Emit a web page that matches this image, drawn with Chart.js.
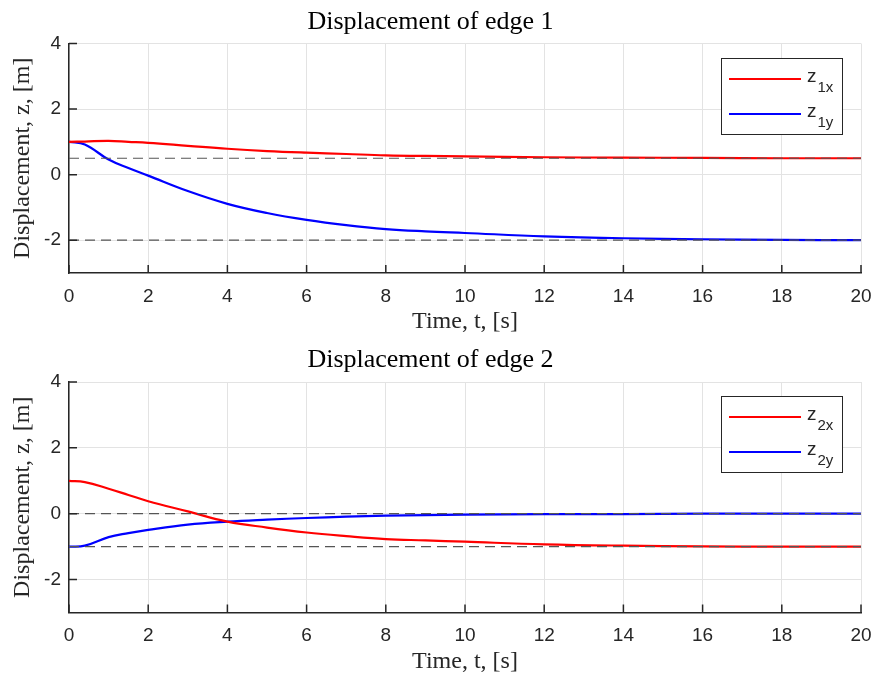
<!DOCTYPE html>
<html>
<head>
<meta charset="utf-8">
<script src="https://cdn.jsdelivr.net/npm/chart.js@4.4.1/dist/chart.umd.min.js"></script>
<style>
    body { margin: 0; background: #fff; }
    #wrap { position: relative; width: 875px; height: 680px; }
    .plot { position: absolute; left: 0; }
</style>
</head>
<body>
<div id="wrap">
    <canvas id="edge1Chart" class="plot" style="top:0" width="875" height="340"></canvas>
    <canvas id="edge2Chart" class="plot" style="top:340px" width="875" height="340"></canvas>
</div>
<script>
// time samples [s]
const timeS = [0, 0.4, 1, 1.5, 2, 3, 4, 5, 6, 7, 8, 9, 10, 12, 14, 16, 18, 20];

// edge 1
const z1x = [1.0, 1.01, 1.03, 1.0, 0.97, 0.88, 0.79, 0.72, 0.67, 0.63, 0.59, 0.57, 0.56, 0.53, 0.52, 0.51, 0.50, 0.50];
const z1y = [1.0, 0.92, 0.46, 0.2, -0.03, -0.5, -0.89, -1.17, -1.38, -1.54, -1.66, -1.73, -1.78, -1.88, -1.94, -1.97, -1.99, -2.0];
const edge1Targets = [0.5, -2];

// edge 2
const z2x = [1.0, 0.96, 0.76, 0.57, 0.38, 0.07, -0.24, -0.42, -0.57, -0.68, -0.77, -0.81, -0.85, -0.93, -0.97, -0.99, -1.0, -1.0];
const z2y = [-1.0, -0.97, -0.71, -0.59, -0.49, -0.33, -0.24, -0.18, -0.13, -0.09, -0.06, -0.04, -0.03, -0.015, -0.01, 0, 0, 0];
const edge2Targets = [0, -1];

const xTicks = [0, 2, 4, 6, 8, 10, 12, 14, 16, 18, 20];
const yTicks = [-2, 0, 2, 4];

Chart.defaults.font.family = '"Liberation Sans", Arial, sans-serif';

const serif = '"Liberation Serif", "Times New Roman", serif';

// matlab style tick marks pointing into the axes
const innerTicks = {
    id: 'innerTicks',
    afterDatasetsDraw(chart) {
        let ctx = chart.ctx, a = chart.chartArea, x = chart.scales.x, y = chart.scales.y;
        ctx.save();
        ctx.strokeStyle = '#262626';
        ctx.lineWidth = 1.5;
        ctx.beginPath();
        x.ticks.forEach(function (t) {
            let px = x.getPixelForValue(t.value);
            ctx.moveTo(px, a.bottom);
            ctx.lineTo(px, a.bottom - 8);
        });
        y.ticks.forEach(function (t) {
            let py = y.getPixelForValue(t.value);
            ctx.moveTo(a.left, py);
            ctx.lineTo(a.left + 8, py);
        });
        ctx.stroke();
        ctx.restore();
    }
};

// legend box with subscripts (z_{1x})
const subLegend = {
    id: 'subLegend',
    afterDraw(chart) {
        let ctx = chart.ctx, a = chart.chartArea;
        let items = chart.data.datasets.filter(d => d.inLegend);
        let w = 121, h = 76;
        let bx = Math.round(a.right - 19 - w), by = Math.round(a.top + 14);
        ctx.save();
        ctx.fillStyle = '#fff';
        ctx.fillRect(bx, by, w, h);
        ctx.strokeStyle = '#262626';
        ctx.lineWidth = 1;
        ctx.strokeRect(bx + 0.5, by + 0.5, w, h);
        items.forEach(function (d, i) {
            let ly = by + 21 + i * 35;
            ctx.strokeStyle = d.borderColor;
            ctx.lineWidth = 2.2;
            ctx.beginPath();
            ctx.moveTo(bx + 8, ly);
            ctx.lineTo(bx + 80, ly);
            ctx.stroke();
            let parts = d.label.split('_');
            ctx.fillStyle = '#262626';
            ctx.textBaseline = 'alphabetic';
            ctx.font = '19px "Liberation Sans"';
            ctx.fillText(parts[0], bx + 86, ly + 3);
            let mw = ctx.measureText(parts[0]).width;
            ctx.font = '15px "Liberation Sans"';
            ctx.fillText(parts[1], bx + 86 + mw + 1, ly + 13);
        });
        ctx.restore();
    }
};

function points(ys) {
    return timeS.map((t, k) => ({ x: t, y: ys[k] }));
}

function setChart(id, title, series, targets, box) {
    let datasets = [];

    targets.forEach(function (v) {
        datasets.push({
            data: [{ x: 0, y: v }, { x: 20, y: v }],
            borderColor: '#555',
            borderWidth: 1.2,
            borderDash: [10, 6],
            pointRadius: 0,
            order: 0
        });
    });

    series.forEach(function (s) {
        datasets.push({
            label: s.label,
            inLegend: true,
            data: points(s.values),
            borderColor: s.color,
            borderWidth: 2.2,
            pointRadius: 0,
            tension: 0.4,
            order: 1
        });
    });

    return new Chart(document.getElementById(id), {
        type: 'line',
        data: { datasets: datasets },
        plugins: [innerTicks, subLegend],
        options: {
            responsive: false,
            animation: false,
            layout: { padding: { top: 0, left: 0, right: 14, bottom: 0 } },
            plugins: {
                legend: { display: false },
                tooltip: { enabled: false },
                title: {
                    display: true,
                    text: title,
                    color: '#000',
                    font: { family: serif, size: 26, weight: 'normal' },
                    padding: { top: box.titleTop, bottom: box.plotTop - box.titleTop - 31.2 }
                }
            },
            scales: {
                x: {
                    type: 'linear',
                    min: 0,
                    max: 20,
                    afterBuildTicks: s => { s.ticks = xTicks.map(v => ({ value: v })); },
                    afterFit: s => { s.height = box.xHeight; s.paddingLeft = 0; s.paddingRight = 0; },
                    grid: { color: '#e3e3e3', drawTicks: false },
                    border: { color: '#262626', width: 1.5 },
                    ticks: { color: '#262626', font: { size: 19 }, padding: 12, maxRotation: 0 },
                    title: {
                        display: true,
                        text: 'Time, t, [s]',
                        color: '#262626',
                        font: { family: serif, size: 24 },
                        padding: { top: 0, bottom: 4 }
                    }
                },
                y: {
                    min: -3,
                    max: 4,
                    afterBuildTicks: s => { s.ticks = yTicks.map(v => ({ value: v })); },
                    afterFit: s => { s.width = 69; },
                    grid: { color: '#e3e3e3', drawTicks: false },
                    border: { color: '#262626', width: 1.5 },
                    ticks: { color: '#262626', font: { size: 19 }, padding: 8 },
                    title: {
                        display: true,
                        text: 'Displacement, z, [m]',
                        color: '#262626',
                        font: { family: serif, size: 24 },
                        padding: { top: 8.5, bottom: 0 }
                    }
                }
            }
        }
    });
}

setChart('edge1Chart', 'Displacement of edge 1', [
    { label: 'z_1x', values: z1x, color: '#ff0000' },
    { label: 'z_1y', values: z1y, color: '#0000ff' }
], edge1Targets, { titleTop: 7, plotTop: 43.5, xHeight: 67 });

setChart('edge2Chart', 'Displacement of edge 2', [
    { label: 'z_2x', values: z2x, color: '#ff0000' },
    { label: 'z_2y', values: z2y, color: '#0000ff' }
], edge2Targets, { titleTop: 5, plotTop: 42, xHeight: 67.5 });
</script>
</body>
</html>
